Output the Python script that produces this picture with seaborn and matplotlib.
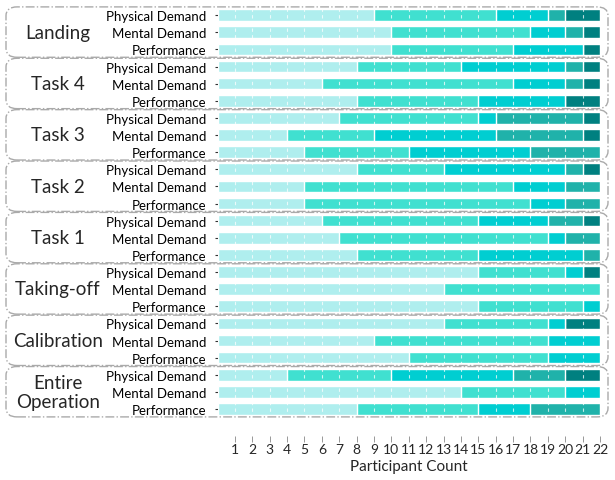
import numpy as np
import pandas as pd
import matplotlib
matplotlib.use('Agg')
import matplotlib.pyplot as plt
import seaborn as sns
from matplotlib.patches import FancyBboxPatch

# grupos (de arriba hacia abajo) y medidas
groups = ['Landing', 'Task 4', 'Task 3', 'Task 2', 'Task 1',
          'Taking-off', 'Calibration', 'Entire\nOperation']
measures = ['Physical Demand', 'Mental Demand', 'Performance']

# conteo de participantes por nivel (5 niveles, 24 filas)
level1 = [9, 10, 10, 8, 6, 8, 7, 4, 5, 8, 5, 5, 6, 7, 8, 15, 13, 15, 13, 9, 11, 4, 14, 8]
level2 = [7, 8, 7, 6, 11, 7, 8, 5, 6, 5, 12, 13, 9, 12, 7, 5, 9, 6, 6, 10, 8, 6, 6, 7]
level3 = [3, 2, 4, 6, 3, 5, 1, 7, 7, 7, 3, 2, 4, 1, 6, 1, 0, 1, 1, 3, 3, 7, 2, 3]
level4 = [1, 1, 0, 1, 1, 0, 5, 5, 4, 1, 2, 2, 2, 2, 1, 0, 0, 0, 0, 0, 0, 3, 0, 4]
level5 = [2, 1, 1, 1, 1, 2, 1, 1, 0, 1, 0, 0, 1, 0, 0, 1, 0, 0, 2, 0, 0, 2, 0, 0]

colors = ['#AFEEEE', '#40E0D0', '#00CED1', '#20B2AA', '#008080']
ticks = list(range(1, 23))

rows = [f'{g}|{m}' for g in groups for m in measures]
levels = np.array([level1, level2, level3, level4, level5])
cum = levels.cumsum(axis=0)
df = pd.DataFrame({'row': rows})
for i in range(5):
    df[f'c{i}'] = cum[i]

sns.set_style('white')
plt.rcParams['font.family'] = ['Lato', 'DejaVu Sans']

fig = plt.figure(figsize=(6.15, 4.81), dpi=100)
ax = fig.add_axes([217.5 / 615, 1 - 418.6 / 481, 382.5 / 615, 411 / 481])

# barras apiladas: de la suma total hacia la primera
for i in range(4, -1, -1):
    sns.barplot(data=df, x=f'c{i}', y='row', color=colors[i], saturation=1,
                width=0.68, orient='h', ax=ax, zorder=2)

ax.set_xlim(0, 22)
ax.set_ylim(23.5, -0.5)
ax.set_xticks(ticks)
ax.set_xticklabels([str(t) for t in ticks], fontsize=6, color='#444444',
                   family=['Liberation Sans Narrow', 'DejaVu Sans'])
ax.set_yticks(range(len(rows)))
ax.set_yticklabels(measures * len(groups), fontsize=9.5, color='black')
ax.set_xlabel('Participant Count', fontsize=11, labelpad=3)
ax.set_ylabel('')
for s in ax.spines.values():
    s.set_visible(False)
ax.spines['bottom'].set_position(('outward', 13))
ax.tick_params(axis='x', length=4, width=0.6, color='#888888', pad=1.5, bottom=True)
ax.tick_params(axis='y', length=2, width=0.8, color='#333333', pad=6, left=True)

# lineas blancas punteadas sobre las barras
for t in ticks[:-1]:
    ax.axvline(t, color='white', ls=(0, (3, 3)), lw=0.8, alpha=0.75, zorder=3)

# cajas redondeadas de cada grupo y su nombre
row_h = 411 / 24
for gi, g in enumerate(groups):
    y0 = 7.4 + gi * 3 * row_h
    top = 1 - (y0 + 0.5) / 481
    bot = 1 - (y0 + 3 * row_h - 0.5) / 481
    box = FancyBboxPatch((6 / 615, bot), 602 / 615, top - bot,
                         boxstyle='round,pad=0,rounding_size=0.018',
                         transform=fig.transFigure, fill=False,
                         ec='#aaaaaa', lw=1, ls='-.', zorder=0)
    fig.patches.append(box)
    fig.text(58 / 615, (top + bot) / 2, g, ha='center', va='center',
             fontsize=13.5, linespacing=1.15)

fig.savefig('out.png', dpi=100)
